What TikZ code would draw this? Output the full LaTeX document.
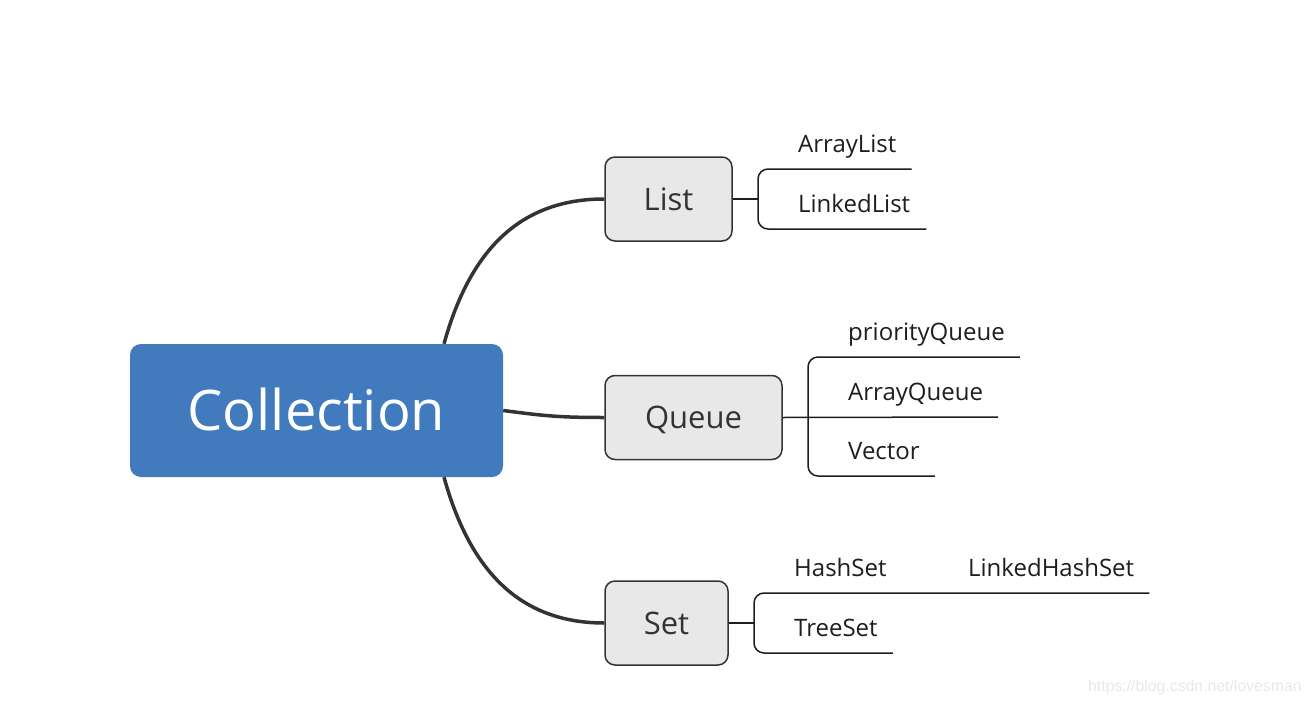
\documentclass[tikz,border=0pt]{standalone}
\usepackage{fontspec}
\setmainfont{Open Sans}
\newfontfamily\marksans{Liberation Sans}
\definecolor{rootblue}{HTML}{417BBE}
\definecolor{topicgray}{HTML}{E8E8E8}
\definecolor{linegray}{HTML}{333333}
\definecolor{leafink}{HTML}{1E1E1E}
\begin{document}
\begin{tikzpicture}[x=1pt, y=-1pt]
        \tikzstyle{root}=[fill=rootblue, rounded corners=11pt, inner sep=0pt, minimum width=373pt, minimum height=133pt, text=white, text height=40pt, text depth=0pt, font=\fontsize{56}{60}\selectfont]
        \tikzstyle{topic}=[draw=linegray, line width=1.5pt, fill=topicgray, rounded corners=10pt, inner sep=0pt, minimum height=84pt, text=linegray, text height=22pt, text depth=0pt, font=\fontsize{31}{36}\selectfont]
        \tikzstyle{leaf}=[anchor=base west, inner sep=0pt, text=leafink, font=\fontsize{24}{28}\selectfont]
        \tikzstyle{branch}=[draw=linegray, line width=3.5pt]
        \tikzstyle{bracket}=[draw=leafink, line width=1.5pt, rounded corners=10pt]

        \useasboundingbox (0,0) rectangle (1310,704);

        \node (coll)[root] at (316.5,410.5) {Collection};
        \node (list)[topic, minimum width=127pt] at (668.5,199) {List};
        \node (queue)[topic, minimum width=177pt] at (693.5,417.5) {Queue};
        \node (set)[topic, minimum width=123pt] at (666.5,623) {Set};

        \draw[branch] ([xshift=127.5pt]coll.north) .. controls (470,250) and (520,199) .. (list.west);
        \draw[branch] (coll.east) .. controls (545,416) and (560,417.5) .. (queue.west);
        \draw[branch] ([xshift=127.5pt]coll.south) .. controls (470,571) and (520,623) .. (set.west);

        % List
        \node (arraylist)[leaf] at (798,152) {ArrayList};
        \node (linkedlist)[leaf] at (798,212) {LinkedList};
        \coordinate (listfork) at (758,199);
        \draw[bracket] (list.east) -- (listfork);
        \draw[bracket] ([shift={(15,17)}]arraylist.base east) -- ([shift={(-40,17)}]arraylist.base west)
                -- ([shift={(-40,17)}]linkedlist.base west) -- ([shift={(16,17)}]linkedlist.base east);

        % Queue
        \node (prioqueue)[leaf] at (848,340) {priorityQueue};
        \node (arrayqueue)[leaf] at (848,400) {ArrayQueue};
        \node (vector)[leaf] at (848,459) {Vector};
        \draw[bracket] (queue.east) -- ([shift={(15,17)}]arrayqueue.base east);
        \draw[bracket] ([shift={(15,17)}]prioqueue.base east) -- ([shift={(-40,17)}]prioqueue.base west)
                -- ([shift={(-40,17)}]vector.base west) -- ([shift={(15,17)}]vector.base east);

        % Set
        \node (hashset)[leaf] at (794,576) {HashSet};
        \node (linkedhashset)[leaf] at (968,576) {LinkedHashSet};
        \node (treeset)[leaf] at (794,636) {TreeSet};
        \coordinate (setfork) at (754,623);
        \draw[bracket] (set.east) -- (setfork);
        \draw[bracket] ([shift={(15,17)}]linkedhashset.base east) -- ([shift={(-40,17)}]hashset.base west)
                -- ([shift={(-40,17)}]treeset.base west) -- ([shift={(15,17)}]treeset.base east);

        \node (mark)[anchor=base west, inner sep=0pt, text=gray!18, font=\marksans\fontsize{15.8}{18}\selectfont] at (1088,691) {https://blog.csdn.net/lovesman};
\end{tikzpicture}
\end{document}
